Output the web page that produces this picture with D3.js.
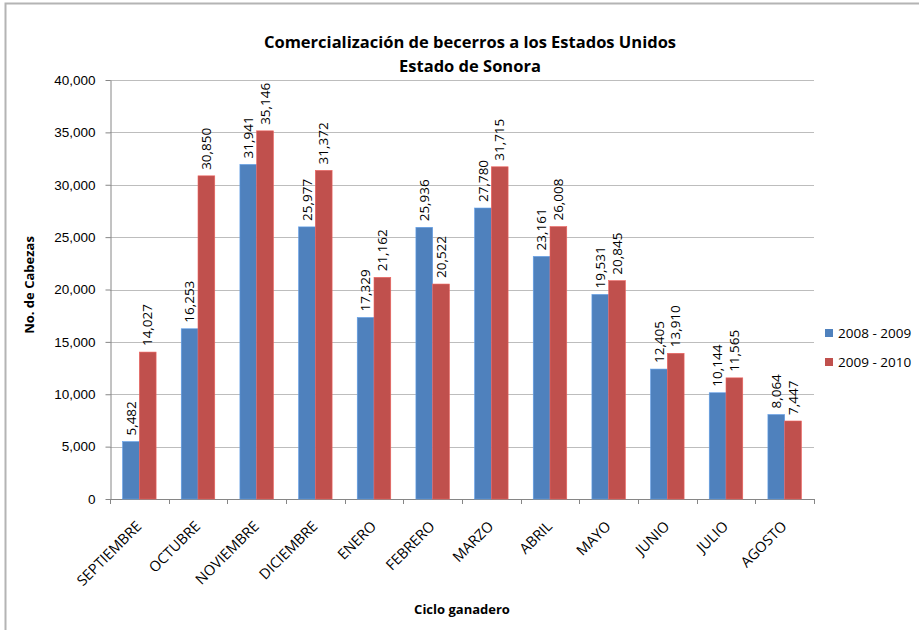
<!DOCTYPE html>
<html>
<head>
<meta charset="utf-8">
<script src="https://cdn.jsdelivr.net/npm/d3@7"></script>
<style>
  body { margin: 0; background: #fff; }
  svg { display: block; font-family: "Open Sans", sans-serif; }
  .grid line { stroke: #bdbdbd; }
  .axis path, .axis line { stroke: #868686; }
  .axis text { fill: #000; }
</style>
</head>
<body>
<div id="chart"></div>
<script>
var width = 919;
var height = 630;

// datos
var meses = ["SEPTIEMBRE", "OCTUBRE", "NOVIEMBRE", "DICIEMBRE", "ENERO", "FEBRERO",
             "MARZO", "ABRIL", "MAYO", "JUNIO", "JULIO", "AGOSTO"];
var ciclo0809 = [5482, 16253, 31941, 25977, 17329, 25936, 27780, 23161, 19531, 12405, 10144, 8064];
var ciclo0910 = [14027, 30850, 35146, 31372, 21162, 20522, 31715, 26008, 20845, 13910, 11565, 7447];
var series = ["2008 - 2009", "2009 - 2010"];
var colores = ["#4f81bd", "#c0504d"];
var yTicks = [0, 5000, 10000, 15000, 20000, 25000, 30000, 35000, 40000];

var plot = {left: 110, right: 814, top: 80, bottom: 499};

var svg = d3.select("#chart").append("svg")
  .attr("width", width)
  .attr("height", height);

// marco exterior
svg.append("rect")
  .attr("x", 5.5).attr("y", 3.5)
  .attr("width", width + 20).attr("height", height + 20)
  .attr("fill", "none")
  .attr("stroke", "#b4b4b4")
  .attr("stroke-width", 2);

var x = d3.scaleBand()
  .domain(meses)
  .range([plot.left, plot.right])
  .paddingInner(1.5 / 3.5)
  .paddingOuter(0.75 / 3.5);

var xStep = d3.scalePoint()
  .domain(d3.range(meses.length + 1))
  .range([plot.left, plot.right]);

var x1 = d3.scaleBand()
  .domain(series)
  .range([0, x.bandwidth()]);

var y = d3.scaleLinear()
  .domain([0, 40000])
  .range([plot.bottom, plot.top]);

var fmt = d3.format(",");

// lineas de cuadricula
svg.append("g")
  .attr("class", "grid")
  .selectAll("line")
  .data(yTicks.slice(1))
  .enter().append("line")
  .attr("x1", plot.left).attr("x2", plot.right)
  .attr("y1", function(d) { return Math.round(y(d)) + 0.5; })
  .attr("y2", function(d) { return Math.round(y(d)) + 0.5; });

// eje y
var yAxis = svg.append("g")
  .attr("class", "axis")
  .attr("transform", "translate(" + (plot.left + 0.5) + ",0)")
  .call(d3.axisLeft(y).tickValues(yTicks).tickFormat(fmt).tickSize(5).tickPadding(10).tickSizeOuter(0));
yAxis.selectAll("text").style("font-size", "13.5px");

// eje x (marcas entre categorias)
var xAxis = svg.append("g").attr("class", "axis");
xAxis.append("line")
  .attr("x1", plot.left).attr("x2", plot.right)
  .attr("y1", plot.bottom + 0.5).attr("y2", plot.bottom + 0.5);
xAxis.selectAll(".tk")
  .data(d3.range(meses.length + 1))
  .enter().append("line")
  .attr("class", "tk")
  .attr("x1", function(d) { return Math.round(xStep(d)) + 0.5; })
  .attr("x2", function(d) { return Math.round(xStep(d)) + 0.5; })
  .attr("y1", plot.bottom).attr("y2", plot.bottom + 5);

xAxis.selectAll(".lbl")
  .data(meses)
  .enter().append("text")
  .attr("class", "lbl")
  .attr("text-anchor", "end")
  .attr("transform", function(d) {
    return "translate(" + (x(d) + x.bandwidth() / 2 - 4) + "," + (plot.bottom + 21) + ") rotate(-45)";
  })
  .attr("dy", "0.7em")
  .style("font-size", "14.5px")
  .text(function(d) { return d; });

// barras
var datos = [];
meses.forEach(function(m, i) {
  datos.push({mes: m, serie: series[0], valor: ciclo0809[i], color: colores[0]});
  datos.push({mes: m, serie: series[1], valor: ciclo0910[i], color: colores[1]});
});

svg.append("g")
  .selectAll("rect")
  .data(datos)
  .enter().append("rect")
  .attr("x", function(d) { return x(d.mes) + x1(d.serie); })
  .attr("y", function(d) { return y(d.valor); })
  .attr("width", x1.bandwidth())
  .attr("height", function(d) { return plot.bottom - y(d.valor); })
  .attr("fill", function(d) { return d.color; })
  .attr("stroke", function(d) { return d3.color(d.color).brighter(0.6); })
  .attr("stroke-width", 0.6);

// etiquetas de valores
svg.append("g")
  .selectAll("text")
  .data(datos)
  .enter().append("text")
  .attr("transform", function(d) {
    return "translate(" + (x(d.mes) + x1(d.serie) + x1.bandwidth() / 2) + "," + (y(d.valor) - 6) + ") rotate(-90)";
  })
  .attr("dy", "0.35em")
  .style("font-size", "13.5px")
  .text(function(d) { return fmt(d.valor); });

// titulo
svg.append("text")
  .attr("x", 470).attr("y", 48)
  .attr("text-anchor", "middle")
  .style("font-size", "16.5px").style("font-weight", "bold")
  .text("Comercialización de becerros a los Estados Unidos");
svg.append("text")
  .attr("x", 470).attr("y", 72)
  .attr("text-anchor", "middle")
  .style("font-size", "16.5px").style("font-weight", "bold")
  .text("Estado de Sonora");

// titulos de ejes
svg.append("text")
  .attr("transform", "translate(34,285) rotate(-90)")
  .attr("text-anchor", "middle")
  .style("font-size", "13px").style("font-weight", "bold")
  .text("No. de Cabezas");
svg.append("text")
  .attr("x", 462).attr("y", 614)
  .attr("text-anchor", "middle")
  .style("font-size", "13px").style("font-weight", "bold")
  .text("Ciclo ganadero");

// leyenda
var leyenda = svg.append("g")
  .selectAll("g")
  .data(series)
  .enter().append("g")
  .attr("transform", function(d, i) { return "translate(825," + (329 + i * 29) + ")"; });
leyenda.append("rect")
  .attr("width", 8).attr("height", 8)
  .attr("fill", function(d, i) { return colores[i]; });
leyenda.append("text")
  .attr("x", 13).attr("y", 4)
  .attr("dy", "0.35em")
  .style("font-size", "13.5px")
  .text(function(d) { return d; });
</script>
</body>
</html>
